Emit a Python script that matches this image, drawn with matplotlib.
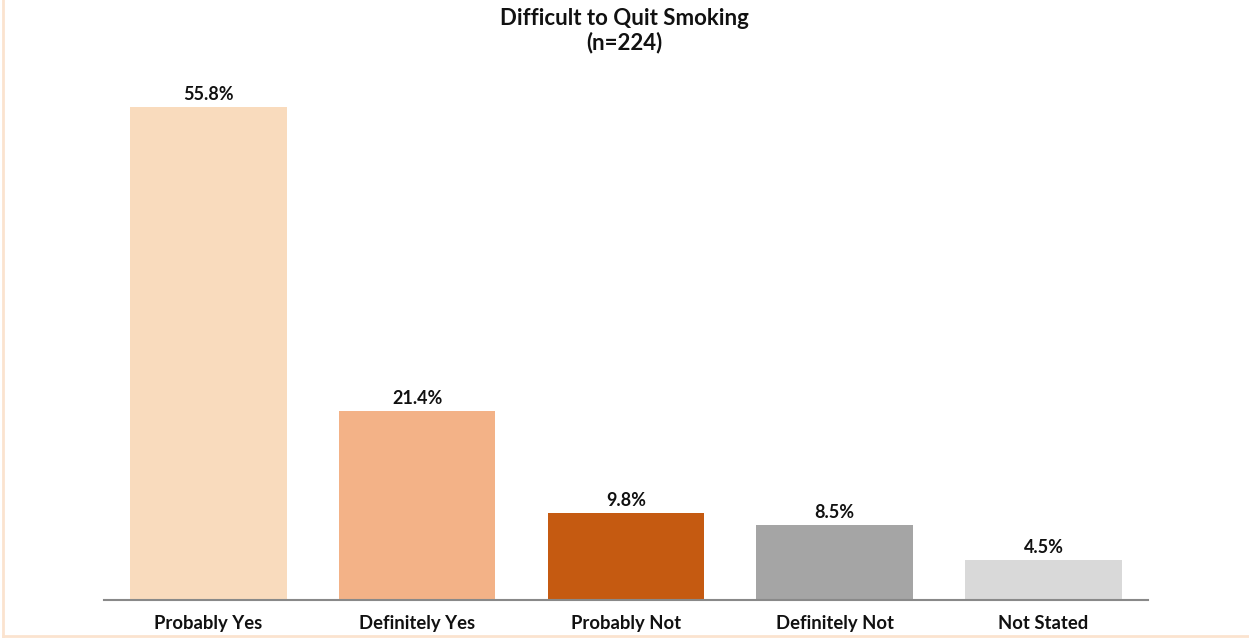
import matplotlib
matplotlib.use("Agg")
from matplotlib import pyplot as plt
from matplotlib.lines import Line2D

categories = ['Probably Yes', 'Definitely Yes', 'Probably Not', 'Definitely Not', 'Not Stated']
values = [55.8, 21.4, 9.8, 8.5, 4.5]
colors = ['#F9DBBD', '#F3B287', '#C55A11', '#A5A5A5', '#D9D9D9']

plt.rcParams['font.family'] = ['Lato', 'DejaVu Sans']

fig = plt.figure(figsize=(12.49, 6.39), dpi=100)
ax = fig.add_axes([104/1249, 39/639, 1044/1249, 530/639])

x = range(len(categories))
bars = ax.bar(x, values, width=0.75, color=colors)
for b, v in zip(bars, values):
    ax.annotate(f'{v}%', (b.get_x() + b.get_width()/2, v), xytext=(0, 3),
                textcoords='offset points', ha='center', va='bottom',
                fontsize=13, fontweight='bold', color='#111111')

ax.set_xlim(-0.5, 4.5)
ax.set_ylim(0, 60)
ax.set_xticks(list(x))
ax.set_xticklabels(categories, fontsize=13.3, fontweight='bold', color='#111111')
ax.tick_params(axis='x', length=0, pad=10.5)
ax.set_yticks([])
for s in ['top', 'right', 'left']:
    ax.spines[s].set_visible(False)
ax.spines['bottom'].set_color('#898989')
ax.spines['bottom'].set_linewidth(1.5)

fig.text(0.5, 1 - 8/639, 'Difficult to Quit Smoking\n(n=224)', ha='center', va='top',
         fontsize=16, fontweight='bold', color='#111111', linespacing=1.15)

# thin frame on the left and bottom edge
fig.add_artist(Line2D([3/1249, 3/1249], [3/639, 1], color='#FBE3CF', lw=2))
fig.add_artist(Line2D([3/1249, 1], [3/639, 3/639], color='#FBE3CF', lw=2))

fig.savefig('out.png', dpi=100)
